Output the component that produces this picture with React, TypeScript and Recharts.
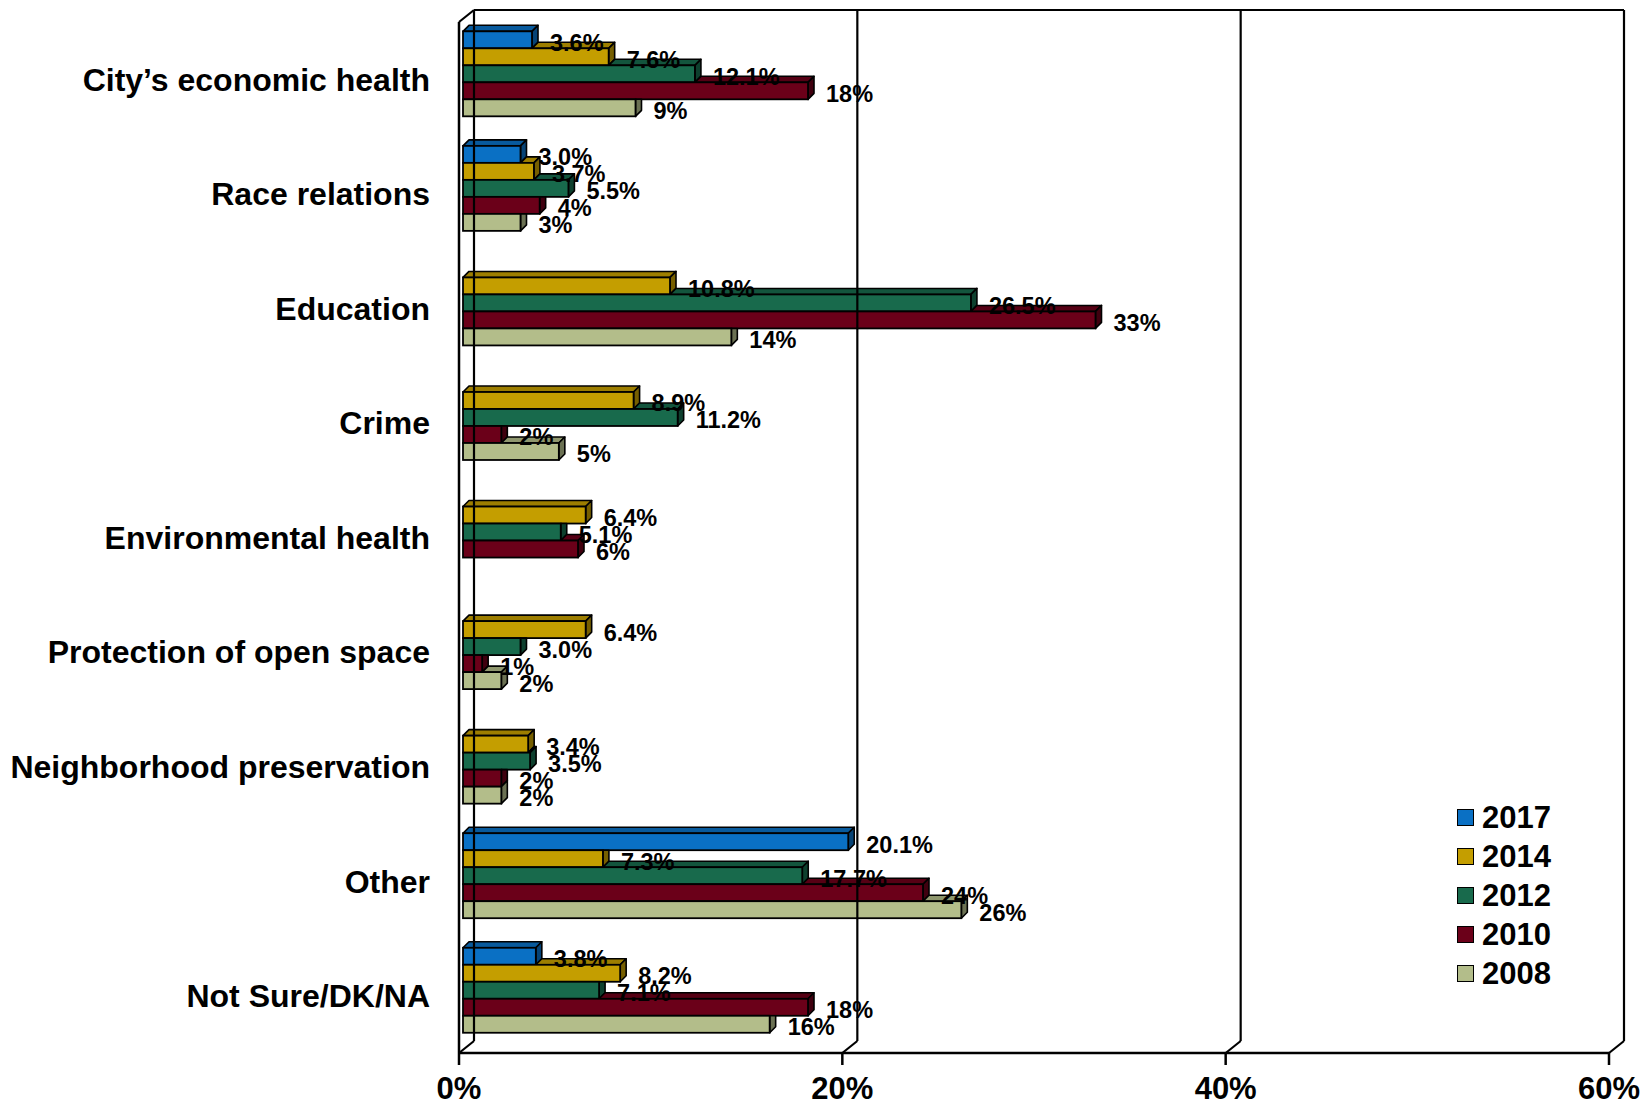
import React from 'react';
import { BarChart, Bar, XAxis, YAxis, LabelList, ReferenceLine, Legend } from 'recharts';

// ---------- data ----------
const categories = [
  'City’s economic health',
  'Race relations',
  'Education',
  'Crime',
  'Environmental health',
  'Protection of open space',
  'Neighborhood preservation',
  'Other',
  'Not Sure/DK/NA',
];
const v2017 = [3.6, 3.0, null, null, null, null, null, 20.1, 3.8];
const v2014 = [7.6, 3.7, 10.8, 8.9, 6.4, 6.4, 3.4, 7.3, 8.2];
const v2012 = [12.1, 5.5, 26.5, 11.2, 5.1, 3.0, 3.5, 17.7, 7.1];
const v2010 = [18, 4, 33, 2, 6, 1, 2, 24, 18];
const v2008 = [9, 3, 14, 5, null, 2, 2, 26, 16];

const seriesKeys = ['s2017', 's2014', 's2012', 's2010', 's2008'];
const seriesNames = ['2017', '2014', '2012', '2010', '2008'];
const seriesValues = [v2017, v2014, v2012, v2010, v2008];
const seriesColors = ['#0A70C4', '#C49E00', '#186A4C', '#6B0019', '#B3BD8A'];
const seriesDecimals = [1, 1, 1, 0, 0];

const xTicks = [0, 20, 40, 60];
const boundaryTicks = [0, 1, 2, 3, 4, 5, 6, 7, 8, 9];

const data = categories.map((c, i) => {
  const row: any = { category: c };
  seriesKeys.forEach((k, s) => {
    row[k] = seriesValues[s][i];
  });
  return row;
});

// ---------- styling ----------
const FONT = '"Liberation Sans", Arial, Helvetica, sans-serif';
const WALL_DX = 15;
const WALL_DY = -12;
const BAR_DX = 4;
const BAR_DY = -5;
const BAR_DEPTH = 6;

function shade(hex: string, f: number) {
  const n = parseInt(hex.slice(1), 16);
  const r = Math.round(((n >> 16) & 255) * f);
  const g = Math.round(((n >> 8) & 255) * f);
  const b = Math.round((n & 255) * f);
  return `rgb(${r},${g},${b})`;
}

function make3DBar(prevKey: string | null, color: string) {
  return (props: any) => {
    const { x, y, width, height, payload } = props;
    let v = props.value;
    if (Array.isArray(v)) v = v[1] - v[0];
    if (v == null || !width || width <= 0) return <g />;
    const d = BAR_DEPTH;
    const bx = x + BAR_DX;
    const by = y + BAR_DY;
    const k = width / v;
    const prev = prevKey && payload ? payload[prevKey] : null;
    const xp = prev != null ? bx + prev * k : bx;
    const topStart = Math.max(bx, xp);
    const ex = bx + width;
    const sidePts =
      xp >= ex + d
        ? `${ex},${by} ${ex + d},${by} ${ex + d},${by + height - d} ${ex},${by + height}`
        : `${ex},${by} ${ex + d},${by - d} ${ex + d},${by + height - d} ${ex},${by + height}`;
    return (
      <g>
        {topStart < ex && (
          <polygon
            points={`${topStart},${by} ${topStart + d},${by - d} ${ex + d},${by - d} ${ex},${by}`}
            fill={shade(color, 0.8)}
            stroke="#000"
            strokeWidth={1.6}
            strokeLinejoin="round"
          />
        )}
        <polygon points={sidePts} fill={shade(color, 0.6)} stroke="#000" strokeWidth={1.6} strokeLinejoin="round" />
        <rect x={bx} y={by} width={width} height={height} fill={color} stroke="#000" strokeWidth={1.8} />
      </g>
    );
  };
}

function makeLabel(decimals: number) {
  return (props: any) => {
    const vb = props.viewBox || {};
    const x = props.x ?? vb.x;
    const y = props.y ?? vb.y;
    const w = props.width ?? vb.width;
    const h = props.height ?? vb.height;
    const value = props.value;
    if (value == null || value === '' || x == null) return null;
    return (
      <text
        x={x + w + 22}
        y={y + h / 2 - 2}
        dominantBaseline="central"
        fontFamily={FONT}
        fontWeight={700}
        fontSize={23.5}
        fill="#000"
      >
        {Number(value).toFixed(decimals)}%
      </text>
    );
  };
}

// wall / floor shapes built from reference line endpoints
const vertWall = (withTop: boolean) => (p: any) => {
  const { x1, y1, x2, y2 } = p;
  const bottomY = Math.max(y1, y2);
  const topY = Math.min(y1, y2);
  return (
    <g stroke="#000" strokeWidth={2.2} fill="none">
      <line x1={x1 + WALL_DX} y1={topY + WALL_DY} x2={x2 + WALL_DX} y2={bottomY + WALL_DY} />
      <line x1={x1} y1={bottomY} x2={x1 + WALL_DX} y2={bottomY + WALL_DY} />
      {withTop && <line x1={x1} y1={topY} x2={x1 + WALL_DX} y2={topY + WALL_DY} />}
    </g>
  );
};

const horizWall = (p: any) => {
  const { x1, y1, x2, y2 } = p;
  return (
    <line
      x1={x1 + WALL_DX}
      y1={y1 + WALL_DY}
      x2={x2 + WALL_DX}
      y2={y2 + WALL_DY}
      stroke="#000"
      strokeWidth={2.2}
    />
  );
};

const renderLegend = (props: any) => {
  const payload = [...(props.payload || [])].sort(
    (a: any, b: any) => seriesNames.indexOf(String(a.value)) - seriesNames.indexOf(String(b.value))
  );
  return (
    <div style={{ display: 'flex', flexDirection: 'column', margin: 0, padding: 0 }}>
      {payload.map((p: any) => (
        <div key={p.value} style={{ display: 'flex', alignItems: 'center', height: 39 }}>
          <span
            style={{
              display: 'inline-block',
              width: 15,
              height: 15,
              background: p.color,
              border: '1.5px solid #000',
              marginRight: 8,
            }}
          />
          <span style={{ fontFamily: FONT, fontWeight: 700, fontSize: 31, color: '#000', lineHeight: '39px' }}>
            {p.value}
          </span>
        </div>
      ))}
    </div>
  );
};

export default function App() {
  return (
    <div style={{ position: 'absolute', left: 0, top: 0, width: 1652, height: 1104, background: '#fff' }}>
      <BarChart
        width={1652}
        height={1104}
        data={data}
        layout="vertical"
        margin={{ top: 22, right: 43, bottom: 1, left: 9 }}
        barCategoryGap="12.5%"
        barGap={0}
      >
        <XAxis
          type="number"
          domain={[0, 60]}
          ticks={xTicks}
          tickFormatter={(v: number) => `${v}%`}
          height={50}
          tickSize={12}
          tickMargin={12}
          axisLine={{ stroke: '#000', strokeWidth: 2.5 }}
          tickLine={{ stroke: '#000', strokeWidth: 2.5 }}
          tick={{ fontFamily: FONT, fontWeight: 700, fontSize: 31, fill: '#000' }}
          interval={0}
        />
        <YAxis
          yAxisId="cat"
          type="category"
          dataKey="category"
          width={440}
          axisLine={false}
          tickLine={false}
          tickSize={0}
          tickMargin={19}
          interval={0}
          tick={{ fontFamily: FONT, fontWeight: 700, fontSize: 32, fill: '#000' }}
        />
        <YAxis
          yAxisId="aframe"
          type="number"
          domain={[0, 9]}
          ticks={boundaryTicks}
          tick={false}
          tickSize={9}
          width={10}
          axisLine={{ stroke: '#000', strokeWidth: 2.5 }}
          tickLine={{ stroke: '#000', strokeWidth: 2.5 }}
          interval={0}
        />
        <ReferenceLine yAxisId="aframe" y={0} shape={horizWall} />
        <ReferenceLine yAxisId="aframe" y={9} shape={horizWall} />
        <ReferenceLine yAxisId="aframe" x={0} shape={vertWall(true)} />
        <ReferenceLine yAxisId="aframe" x={20} shape={vertWall(false)} />
        <ReferenceLine yAxisId="aframe" x={40} shape={vertWall(false)} />
        <ReferenceLine yAxisId="aframe" x={60} shape={vertWall(false)} />
        <Legend
          layout="vertical"
          align="center"
          verticalAlign="middle"
          content={renderLegend}
          wrapperStyle={{ left: 1457, top: 798, width: 150, height: 200, margin: 0, padding: 0 }}
        />
        {seriesKeys.map((k, s) => (
          <Bar
            key={k}
            yAxisId="cat"
            dataKey={k}
            name={seriesNames[s]}
            fill={seriesColors[s]}
            isAnimationActive={false}
            shape={make3DBar(s > 0 ? seriesKeys[s - 1] : null, seriesColors[s])}
          >
            <LabelList dataKey={k} content={makeLabel(seriesDecimals[s])} />
          </Bar>
        ))}
      </BarChart>
    </div>
  );
}
